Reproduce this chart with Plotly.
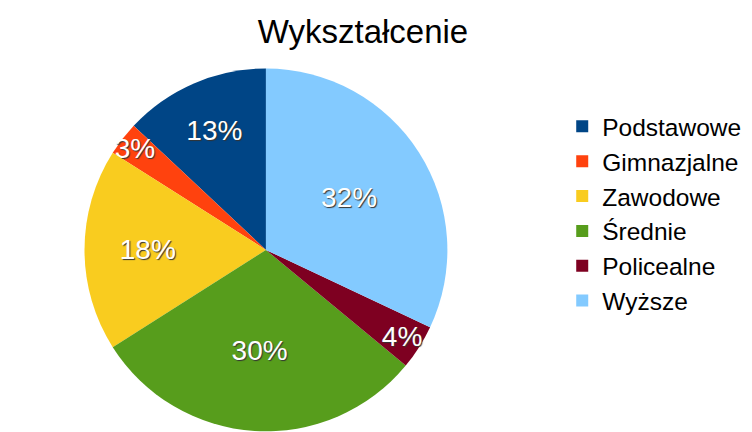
import plotly.graph_objects as go

categories = ["Podstawowe", "Gimnazjalne", "Zawodowe", "Średnie", "Policealne", "Wyższe"]
values = [13, 3, 18, 30, 4, 32]
colors = ["#004586", "#ff420e", "#f9cc1f", "#579d1c", "#7e0021", "#83caff"]
title_text = "Wykształcenie"

first_share = values[0] / sum(values) * 360

fig = go.Figure(
    go.Pie(
        labels=categories,
        values=values,
        sort=False,
        direction="counterclockwise",
        rotation=-first_share,
        marker=dict(colors=colors, line=dict(width=0)),
        texttemplate="%{percent:.0%}",
        textposition="inside",
        insidetextorientation="horizontal",
        textfont=dict(family="Liberation Sans, Arial, sans-serif", size=28, color="white",
                      shadow="1px 1px 1px #333"),
        domain=dict(x=[0.0, 0.686], y=[0.02, 0.86]),
        hoverinfo="label+percent",
    )
)

fig.update_layout(
    width=752,
    height=432,
    paper_bgcolor="white",
    plot_bgcolor="white",
    margin=dict(l=0, r=0, t=0, b=0),
    uniformtext=dict(minsize=28, mode="show"),
    title=dict(text=title_text, x=0.472, xanchor="center", y=0.945, yanchor="middle",
               font=dict(family="Liberation Sans, Arial, sans-serif", size=33, color="black")),
    legend=dict(x=0.737, y=0.778, xanchor="left", yanchor="top",
                font=dict(family="Liberation Sans, Arial, sans-serif", size=24.5, color="black"),
                itemsizing="constant", tracegroupgap=0),
    showlegend=True,
)

fig.write_html("out.html")
